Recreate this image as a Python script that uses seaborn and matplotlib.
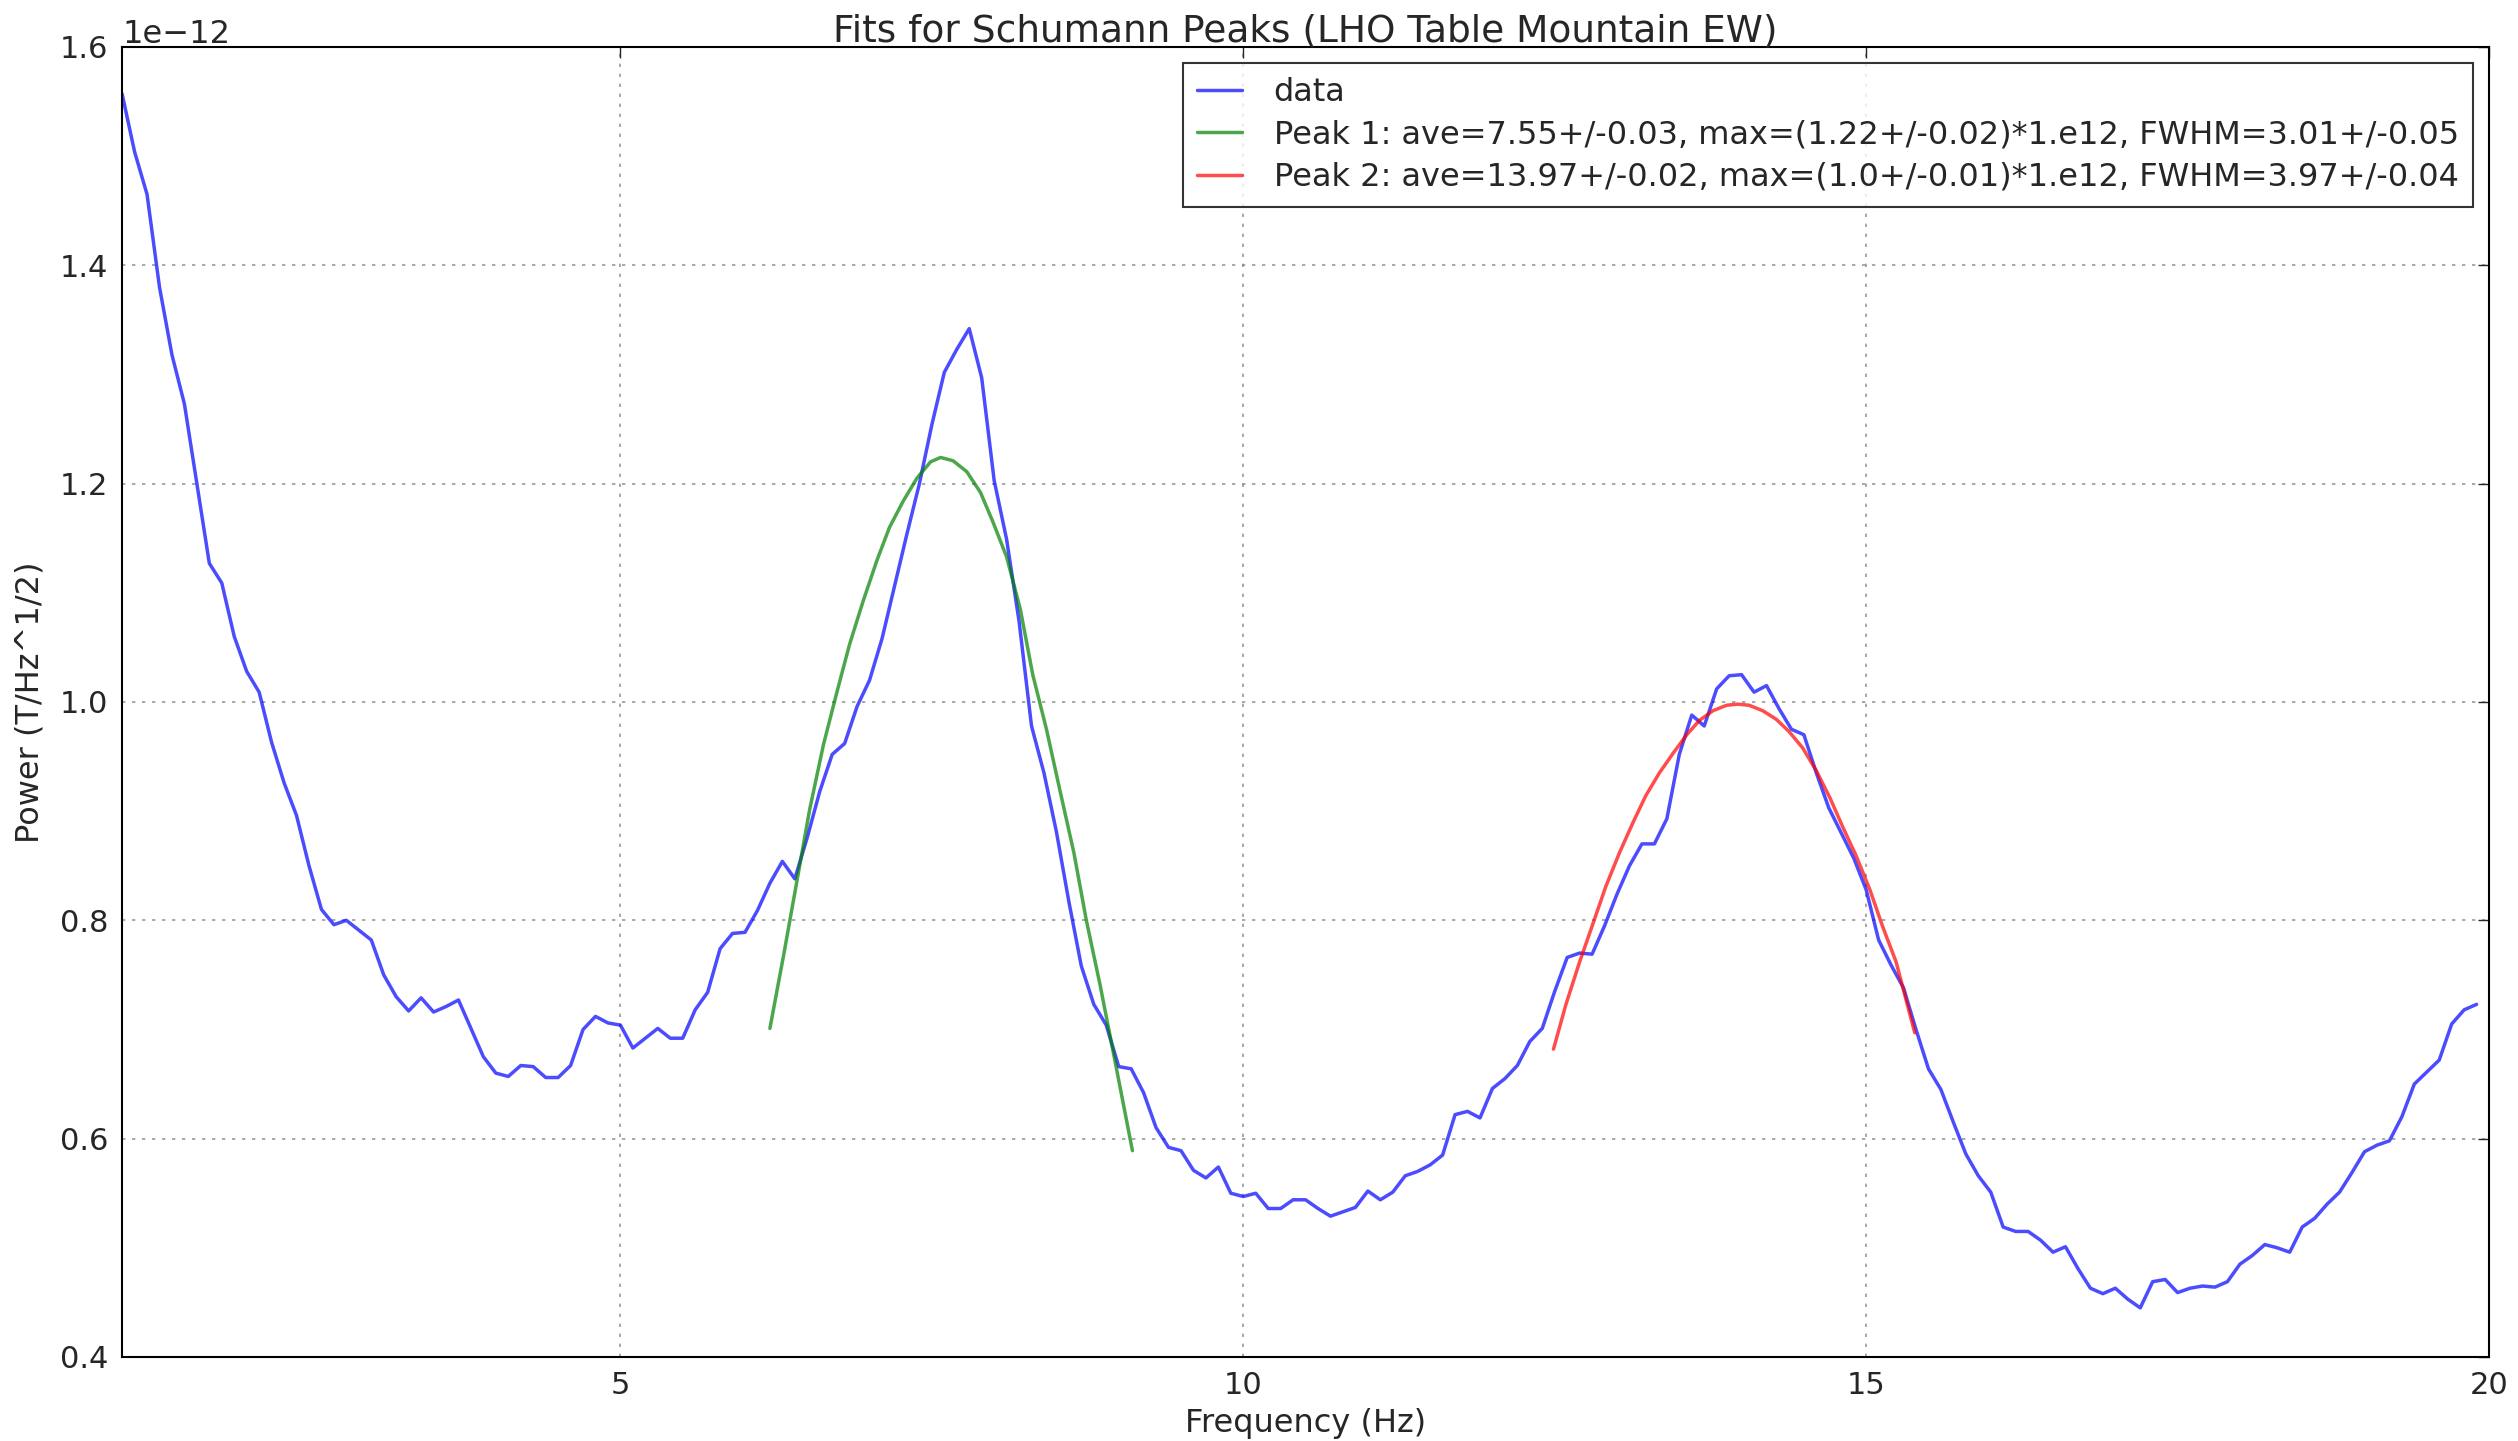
import numpy as np
import pandas as pd
import seaborn as sns
import matplotlib
matplotlib.use("Agg")
import matplotlib.pyplot as plt

# spectrum, 0.1 Hz bins from 1.0 to 19.9 Hz, values in units of 1e-12
freq = np.round(np.arange(1.0, 19.95, 0.1), 1)
power = [1.557, 1.504, 1.465, 1.380, 1.318, 1.273, 1.200, 1.127, 1.109, 1.060,
         1.028, 1.009, 0.963, 0.926, 0.896, 0.850, 0.810, 0.796, 0.800, 0.791,
         0.782, 0.750, 0.730, 0.717, 0.729, 0.716, 0.721, 0.727, 0.701, 0.675,
         0.660, 0.657, 0.667, 0.666, 0.656, 0.656, 0.667, 0.700, 0.712, 0.706,
         0.704, 0.683, 0.692, 0.701, 0.692, 0.692, 0.718, 0.734, 0.774, 0.788,
         0.789, 0.809, 0.834, 0.854, 0.838, 0.876, 0.918, 0.952, 0.962, 0.996,
         1.020, 1.058, 1.106, 1.154, 1.200, 1.254, 1.302, 1.323, 1.342, 1.297,
         1.203, 1.149, 1.074, 0.978, 0.935, 0.881, 0.817, 0.758, 0.723, 0.704,
         0.666, 0.664, 0.642, 0.610, 0.592, 0.589, 0.571, 0.564, 0.574, 0.550,
         0.547, 0.550, 0.536, 0.536, 0.544, 0.544, 0.536, 0.529, 0.533, 0.537,
         0.552, 0.544, 0.551, 0.566, 0.570, 0.576, 0.585, 0.622, 0.625, 0.619,
         0.646, 0.655, 0.667, 0.689, 0.701, 0.735, 0.766, 0.770, 0.769, 0.795,
         0.824, 0.850, 0.870, 0.870, 0.893, 0.952, 0.988, 0.978, 1.012, 1.024,
         1.025, 1.009, 1.015, 0.994, 0.975, 0.970, 0.935, 0.903, 0.880, 0.857,
         0.828, 0.782, 0.759, 0.738, 0.700, 0.664, 0.645, 0.615, 0.586, 0.566,
         0.551, 0.519, 0.515, 0.515, 0.507, 0.496, 0.501, 0.481, 0.463, 0.458,
         0.463, 0.453, 0.445, 0.469, 0.471, 0.459, 0.463, 0.465, 0.464, 0.469,
         0.485, 0.493, 0.503, 0.500, 0.496, 0.519, 0.527, 0.540, 0.551, 0.569,
         0.588, 0.594, 0.598, 0.620, 0.650, 0.661, 0.672, 0.705, 0.718, 0.723]

peak1_freq = [6.20, 6.31, 6.42, 6.52, 6.63, 6.74, 6.84, 6.95, 7.06, 7.16,
              7.27, 7.38, 7.49, 7.57, 7.67, 7.78, 7.89, 7.99, 8.10, 8.21,
              8.31, 8.42, 8.53, 8.64, 8.74, 8.85, 8.96, 9.11]
peak1_fit = [0.701, 0.768, 0.838, 0.902, 0.961, 1.010, 1.053, 1.093, 1.130, 1.160,
             1.184, 1.205, 1.220, 1.224, 1.221, 1.211, 1.192, 1.165, 1.133, 1.085,
             1.025, 0.975, 0.918, 0.862, 0.800, 0.741, 0.677, 0.589]

peak2_freq = [12.49, 12.59, 12.70, 12.81, 12.91, 13.02, 13.13, 13.23, 13.34, 13.45,
              13.56, 13.66, 13.77, 13.88, 13.97, 14.06, 14.17, 14.28, 14.38, 14.49,
              14.60, 14.71, 14.81, 14.92, 15.03, 15.13, 15.24, 15.39]
peak2_fit = [0.682, 0.723, 0.762, 0.798, 0.831, 0.862, 0.890, 0.914, 0.935, 0.953,
             0.970, 0.983, 0.992, 0.997, 0.998, 0.997, 0.992, 0.984, 0.973, 0.958,
             0.937, 0.912, 0.886, 0.859, 0.828, 0.795, 0.762, 0.697]

labels = ["data",
          "Peak 1: ave=7.55+/-0.03, max=(1.22+/-0.02)*1.e12, FWHM=3.01+/-0.05",
          "Peak 2: ave=13.97+/-0.02, max=(1.0+/-0.01)*1.e12, FWHM=3.97+/-0.04"]

sns.set_theme(style="white")
plt.rcParams['font.family'] = ['DejaVu Sans']

fig = plt.figure(figsize=(25.18, 14.41), dpi=100)
ax = fig.add_axes([0.0485, 0.0583, 0.94, 0.9091])

scale = 1e-12
sns.lineplot(x=freq, y=np.array(power) * scale, color="blue", alpha=0.7,
             lw=2.5, label=labels[0], ax=ax)
sns.lineplot(x=peak1_freq, y=np.array(peak1_fit) * scale, color="green", alpha=0.7,
             lw=2.5, label=labels[1], ax=ax)
sns.lineplot(x=peak2_freq, y=np.array(peak2_fit) * scale, color="red", alpha=0.7,
             lw=2.5, label=labels[2], ax=ax)

ax.set_xlim(1, 20)
ax.set_ylim(0.4e-12, 1.6e-12)
ax.set_xticks([5, 10, 15, 20])
ax.set_yticks(np.array([0.4, 0.6, 0.8, 1.0, 1.2, 1.4, 1.6]) * scale)
ax.grid(True, color="gray", linestyle=(0, (2, 4)), linewidth=1.2, alpha=0.8)
ax.tick_params(direction="in", length=8, width=1, labelsize=22,
               top=True, right=True, pad=10)
ax.yaxis.get_offset_text().set_fontsize(23)
for s in ax.spines.values():
    s.set_color("black")
    s.set_linewidth(1.5)

ax.set_title("Fits for Schumann Peaks (LHO Table Mountain EW)", fontsize=27, pad=4)
ax.set_xlabel("Frequency (Hz)", fontsize=23, labelpad=6)
ax.set_ylabel("Power (T/Hz^1/2)", fontsize=23, labelpad=10)

leg = ax.legend(loc="upper right", fontsize=23, frameon=True, fancybox=False,
                borderaxespad=0.5, handlelength=1.4, handletextpad=1.0,
                borderpad=0.45, labelspacing=0.35)
leg.get_frame().set_edgecolor("black")
leg.get_frame().set_linewidth(1.5)

fig.savefig("out.png", dpi=100)
